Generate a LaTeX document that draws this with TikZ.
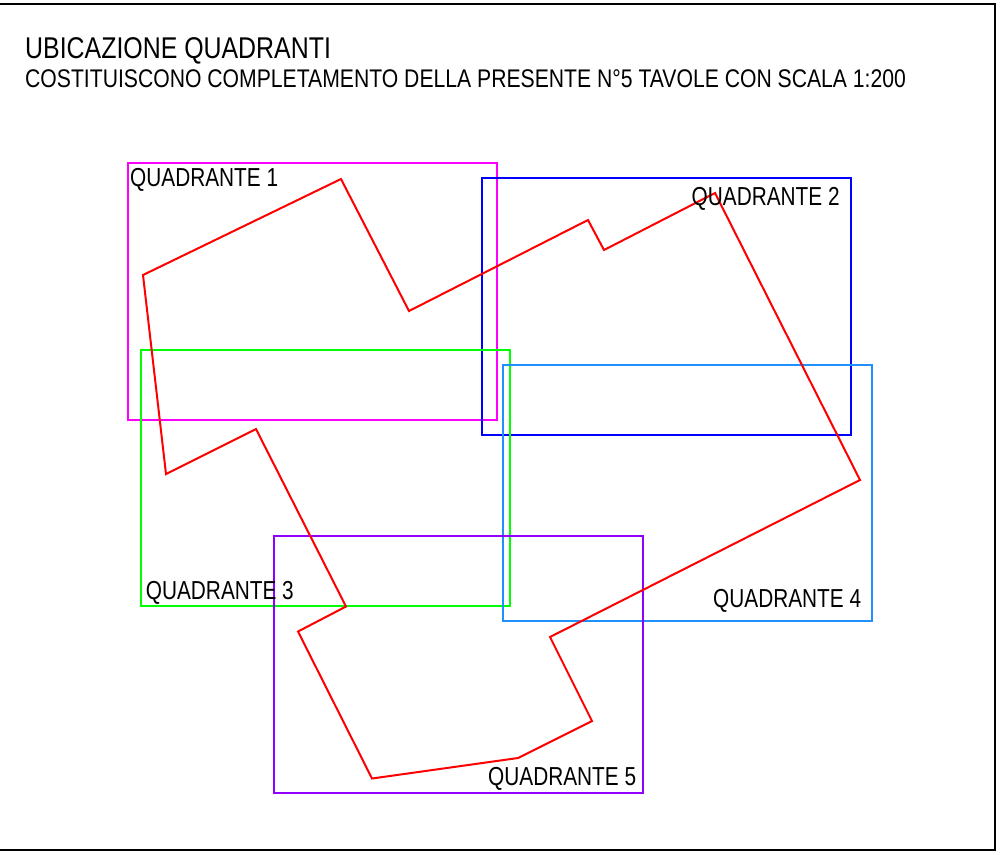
\documentclass[tikz,border=0pt]{standalone}
\usepackage{fontspec}
\newfontfamily\cadfont[FakeStretch=0.8]{Liberation Sans}
\newfontfamily\cadwide[FakeStretch=0.83]{Liberation Sans}
\definecolor{qmag}{RGB}{255,0,255}
\definecolor{qblue}{RGB}{0,0,255}
\definecolor{qgreen}{RGB}{0,255,0}
\definecolor{qsky}{RGB}{30,144,255}
\definecolor{qpurple}{RGB}{143,0,255}
\definecolor{qred}{RGB}{255,0,0}
\begin{document}
\begin{tikzpicture}[x=1pt,y=-1pt,
  quad/.style={line width=2pt},
  txt/.style={anchor=base west,inner sep=0pt,font=\cadfont\fontsize{26}{26}\selectfont},
  title/.style={anchor=base west,inner sep=0pt,font=\cadwide\fontsize{30}{30}\selectfont},
  sub/.style={anchor=base west,inner sep=0pt,font=\cadwide\fontsize{25.5}{25.5}\selectfont}]
\useasboundingbox (0,0) rectangle (1000,854);
\fill[white] (0,0) rectangle (1000,854);
\draw[line width=2pt,black] (-5,3.5) -- (995,3.5) -- (995,850) -- (-5,850);
% quadrants
\draw[quad,qmag] (128,163) rectangle (497,420);
\draw[quad,qblue] (482,178) rectangle (851,435);
\draw[quad,qgreen] (141,349.5) rectangle (510,606);
\draw[quad,qsky] (503,364.5) rectangle (872,621);
\draw[quad,qpurple] (274,535.5) rectangle (643,793);
% outline
\draw[line width=2pt,qred,line join=miter]
  (143,275) -- (341,179) -- (409,311) -- (588,220) -- (604,250) -- (715,193)
  -- (860,480) -- (550,637) -- (592,721) -- (518,758) -- (372,778.5)
  -- (298,631.5) -- (346,606.5) -- (256,429) -- (166,474) -- cycle;
% texts
\node[title] (t) at (25,58.3) {UBICAZIONE QUADRANTI};
\node[sub] (s) at (25,87.3) {COSTITUISCONO COMPLETAMENTO DELLA PRESENTE N°5 TAVOLE CON SCALA 1:200};
\node[txt] (q1) at (130,186.7) {QUADRANTE 1};
\node[txt] (q2) at (691.5,205) {QUADRANTE 2};
\node[txt] (q3) at (145.7,599.3) {QUADRANTE 3};
\node[txt] (q4) at (713,607.5) {QUADRANTE 4};
\node[txt] (q5) at (488,785) {QUADRANTE 5};
\end{tikzpicture}
\end{document}
